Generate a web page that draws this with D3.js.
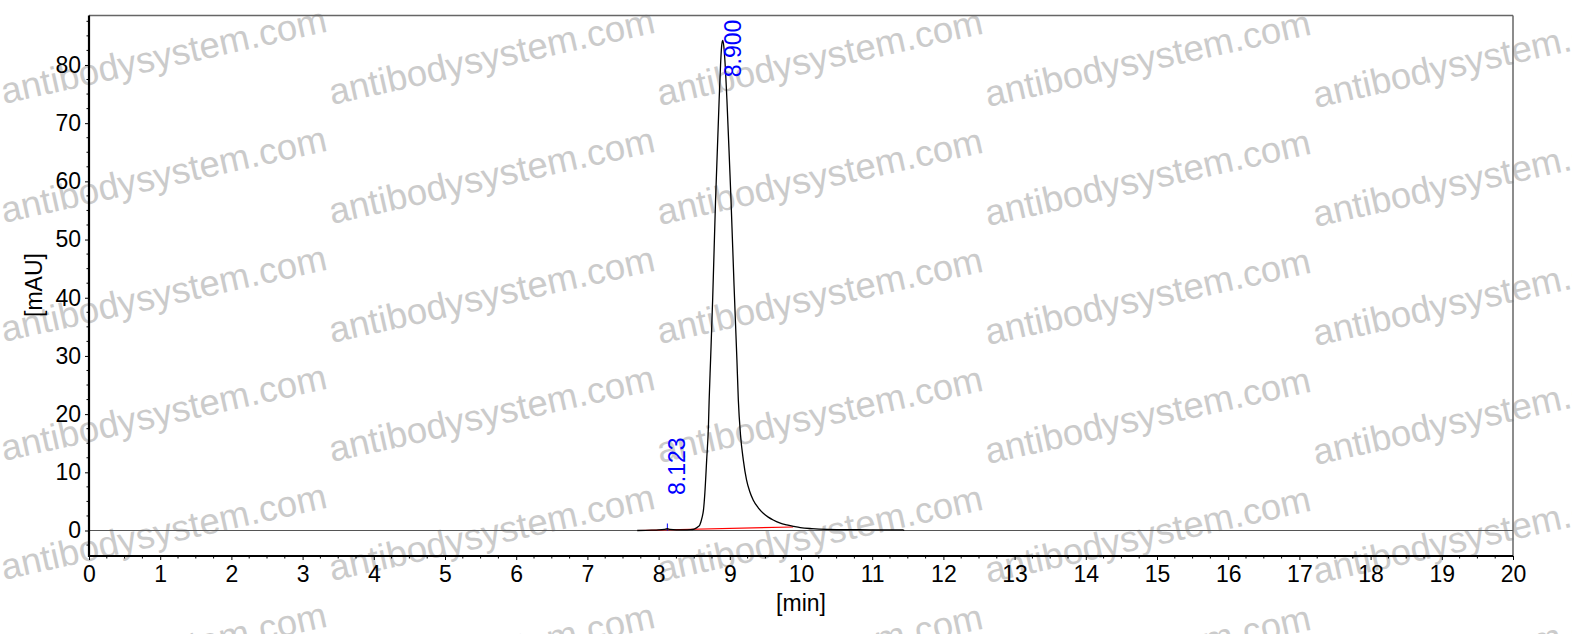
<!DOCTYPE html>
<html>
<head>
<meta charset="utf-8">
<script src="https://cdn.jsdelivr.net/npm/d3@7"></script>
<style>
  html, body { margin: 0; padding: 0; background: #fff; }
  svg { display: block; font-family: Arial, "Liberation Sans", sans-serif; }
</style>
</head>
<body>
<svg id="chart" width="1572" height="634"></svg>
<script>
// ---- data ----
const timeMin = [7.70, 7.90, 8.00, 8.08, 8.123, 8.16, 8.25, 8.35, 8.45, 8.50, 8.55, 8.58, 8.61, 8.63, 8.65, 8.675, 8.70, 8.71, 8.73, 8.76, 8.80, 8.85, 8.87, 8.885, 8.90, 8.915, 8.93, 8.96, 9.00, 9.017, 9.06, 9.10, 9.12, 9.15, 9.19, 9.235, 9.28, 9.33, 9.40, 9.47, 9.54, 9.61, 9.70, 9.80, 9.90, 9.99, 10.15, 10.36, 10.80, 11.20, 11.43, 11.45];
const signalMAU = [0.00, 0.05, 0.10, 0.20, 0.30, 0.20, 0.12, 0.12, 0.15, 0.25, 0.6, 1.0, 2.2, 3.5, 6.5, 12.1, 18.0, 22.4, 29.3, 40.0, 56.8, 73.9, 80.0, 83.2, 84.2, 83.3, 81.0, 73.9, 62.0, 56.8, 42.0, 29.3, 22.4, 16.5, 12.1, 8.7, 6.7, 5.2, 3.9, 2.95, 2.3, 1.8, 1.3, 0.95, 0.7, 0.5, 0.32, 0.2, 0.14, 0.11, 0.1, 0.0];
const baselineTime = [7.71, 9.89];
const baselineMAU = [0.0, 0.6];
const peakTimes = [8.123, 8.900];
const peakLabels = ["8.123", "8.900"];
const peakLabelMAU = [6.1, 77.9];
const xTicks = d3.range(0, 21, 1);
const yTicks = [0, 10, 20, 30, 40, 50, 60, 70, 80];
const xLabel = "[min]";
const yLabel = "[mAU]";
const watermarkText = "antibodysystem.com";

// ---- layout ----
const pLeft = 89, pRight = 1513, pTop = 15.5, pBottom = 556;
const svg = d3.select("#chart");

const x = d3.scaleLinear().domain([0, 20]).range([pLeft, pRight]);
const y = d3.scaleLinear().domain([-4.38, 88.5]).range([pBottom, pTop]);

// ---- watermark ----
const wm = svg.append("g").attr("class", "watermark");
for (let c = 0; c < 5; c++) {
  for (let r = 0; r < 6; r++) {
    const wx = 4 + c * 328;
    const wy = 104 + r * 119 + c * 1;
    wm.append("text")
      .attr("transform", `translate(${wx},${wy}) rotate(-12.6)`)
      .attr("font-size", 36.5)
      .attr("fill", "#cbcbcb")
      .text(watermarkText);
  }
}

// ---- frame top/right ----
svg.append("line").attr("x1", pLeft).attr("x2", pRight).attr("y1", pTop).attr("y2", pTop)
  .attr("stroke", "#666").attr("stroke-width", 1.5);
svg.append("line").attr("x1", pRight).attr("x2", pRight).attr("y1", pTop).attr("y2", pBottom)
  .attr("stroke", "#666").attr("stroke-width", 1.5);

// zero line
svg.append("line").attr("x1", pLeft).attr("x2", pRight).attr("y1", y(0)).attr("y2", y(0))
  .attr("stroke", "#555").attr("stroke-width", 1);

// ---- axes ----
const xAxis = d3.axisBottom(x).tickValues(xTicks).tickSize(4).tickPadding(6).tickFormat(d3.format("d"));
const gx = svg.append("g").attr("transform", `translate(0,${pBottom})`).call(xAxis);
const xMinor = d3.range(0, 20.001, 0.25).filter(v => Math.abs(v - Math.round(v)) > 1e-6);
gx.selectAll(".minor").data(xMinor).enter().append("line")
  .attr("class", "minor").attr("x1", d => x(d)).attr("x2", d => x(d))
  .attr("y1", 0).attr("y2", 2.5).attr("stroke", "#000").attr("stroke-width", 1);

const yAxis = d3.axisLeft(y).tickValues(yTicks).tickSize(4).tickPadding(4).tickFormat(d3.format("d"));
const gy = svg.append("g").attr("transform", `translate(${pLeft},0)`).call(yAxis);
const yMinor = d3.range(-2.5, 88, 2.5).filter(v => Math.abs(v / 10 - Math.round(v / 10)) > 1e-6);
gy.selectAll(".minor").data(yMinor).enter().append("line")
  .attr("class", "minor").attr("x1", 0).attr("x2", -2.5)
  .attr("y1", d => y(d)).attr("y2", d => y(d)).attr("stroke", "#000").attr("stroke-width", 1);

[gx, gy].forEach(g => {
  g.select(".domain").remove();
  g.selectAll("text").attr("font-size", 23).attr("fill", "#000")
    .attr("font-family", "Arial, 'Liberation Sans', sans-serif");
  g.selectAll(".tick line").attr("stroke", "#000");
});

svg.append("line").attr("x1", pLeft).attr("x2", pLeft).attr("y1", pTop).attr("y2", pBottom + 1)
  .attr("stroke", "#000").attr("stroke-width", 2.2);
svg.append("line").attr("x1", pLeft - 1).attr("x2", pRight).attr("y1", pBottom).attr("y2", pBottom)
  .attr("stroke", "#000").attr("stroke-width", 2.2);

// axis titles
svg.append("text").attr("x", (pLeft + pRight) / 2).attr("y", 611)
  .attr("text-anchor", "middle").attr("font-size", 23).text(xLabel);
svg.append("text").attr("transform", `translate(42,${285}) rotate(-90)`)
  .attr("text-anchor", "middle").attr("font-size", 23).text(yLabel);

// ---- baseline (red) ----
const bl = baselineTime.map((t, i) => [t, baselineMAU[i]]);
svg.append("path").datum(bl)
  .attr("d", d3.line().x(d => x(d[0])).y(d => y(d[1])))
  .attr("fill", "none").attr("stroke", "#ff0000").attr("stroke-width", 1.2);

// ---- peak marks (small tick only visible where the signal is near baseline) ----
const sigAt = t => {
  const i = d3.bisectLeft(timeMin, t);
  return signalMAU[Math.min(i, signalMAU.length - 1)];
};
peakTimes.forEach((t, i) => {
  if (sigAt(t) < 5) {
    svg.append("line").attr("x1", x(t)).attr("x2", x(t))
      .attr("y1", y(0) - 7).attr("y2", y(0)).attr("stroke", "#0000ff").attr("stroke-width", 1);
  }
});

// ---- trace ----
const pts = timeMin.map((t, i) => [t, signalMAU[i]]);
svg.append("path").datum(pts)
  .attr("d", d3.line().curve(d3.curveMonotoneX).x(d => x(d[0])).y(d => y(d[1])))
  .attr("fill", "none").attr("stroke", "#000").attr("stroke-width", 1.3);

// ---- peak labels ----
peakTimes.forEach((t, i) => {
  svg.append("text")
    .attr("transform", `translate(${x(t) + 18},${y(peakLabelMAU[i])}) rotate(-90)`)
    .attr("font-size", 23).attr("fill", "#0000ff").text(peakLabels[i]);
});
</script>
</body>
</html>
